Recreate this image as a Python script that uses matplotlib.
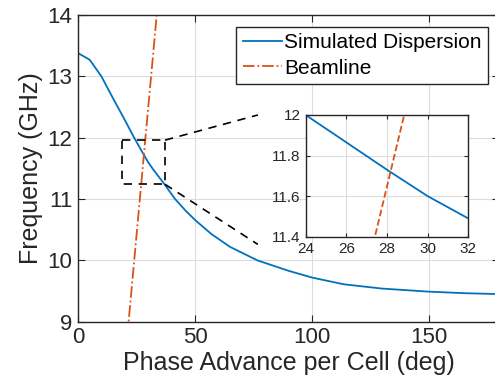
import numpy as np
import matplotlib.pyplot as plt

plt.rcParams['font.family'] = ['Liberation Sans', 'DejaVu Sans']

# Simulated dispersion (phase advance in deg, frequency in GHz)
phase = [0, 5, 10, 15, 20, 24, 28, 30, 32, 36.6, 41.5, 46, 50, 57, 65, 76.7,
         90, 100, 113.6, 130, 150, 165, 180]
freq = [13.38, 13.27, 13.0, 12.64, 12.29, 12.0, 11.73, 11.6, 11.49, 11.26, 11.0,
        10.81, 10.66, 10.43, 10.22, 10.0, 9.83, 9.72, 9.61, 9.54, 9.49, 9.465, 9.45]

# Beamline (straight line)
beam_phase = [0, 40]
beam_freq = [0, 16.64]

blue = '#0072BD'
orange = '#D95319'
spine = '#262626'

fig = plt.figure(figsize=(4.95, 3.92), dpi=100)
W, H = 495, 392
ax = fig.add_axes([78 / W, 1 - 321.7 / H, (499 - 78) / W, (321.7 - 15) / H])

ax.plot(phase, freq, color=blue, lw=1.3, label='Simulated Dispersion')
ax.plot(beam_phase, beam_freq, color=orange, lw=1.3, ls='-.', label='Beamline')
ax.set_xlim(0, 180)
ax.set_ylim(9, 14)
ax.set_xticks([0, 50, 100, 150])
ax.set_yticks([9, 10, 11, 12, 13, 14])
ax.grid(True, color='#dcdcdc', lw=0.8)
ax.tick_params(direction='in', top=True, right=True, labelsize=16, colors=spine,
               length=5, pad=4)
for s in ax.spines.values():
    s.set_color(spine)
    s.set_linewidth(1.0)
ax.set_xlabel('Phase Advance per Cell (deg)', fontsize=18, color=spine, labelpad=2)
ax.set_ylabel('Frequency (GHz)', fontsize=18, color=spine, labelpad=3)
leg = ax.legend(loc='upper right', fontsize=15, fancybox=False, framealpha=1,
                edgecolor=spine, handlelength=1.9, handletextpad=0.1,
                borderpad=0.3, labelspacing=0.3, borderaxespad=0,
                bbox_to_anchor=((488 - 78) / (499 - 78), (321.7 - 27) / (321.7 - 15)))
leg.get_frame().set_linewidth(1.0)

# zoom box and connector lines
rx = [18.6, 37.2, 37.2, 18.6, 18.6]
ry = [11.96, 11.96, 11.24, 11.24, 11.96]
ax.plot(rx, ry, 'k--', lw=1.2, dashes=(5, 4))
ax.plot([37.2, 76.9], [11.96, 12.37], 'k--', lw=1.2, dashes=(5, 4), clip_on=False)
ax.plot([37.2, 76.9], [11.24, 10.26], 'k--', lw=1.2, dashes=(5, 4), clip_on=False)

# inset
ins = fig.add_axes([305.7 / W, 1 - 236.7 / H, (468.3 - 305.7) / W, (236.7 - 115) / H])
ins.plot(phase, freq, color=blue, lw=1.3)
ins.plot(beam_phase, beam_freq, color=orange, lw=1.3, ls='--')
ins.set_xlim(24, 32)
ins.set_ylim(11.4, 12)
ins.set_xticks([24, 26, 28, 30, 32])
ins.set_yticks([11.4, 11.6, 11.8, 12])
ins.set_yticklabels(['11.4', '11.6', '11.8', '12'])
ins.grid(True, color='#dcdcdc', lw=0.8)
ins.tick_params(direction='in', top=True, right=True, labelsize=11, colors=spine, length=3)
for s in ins.spines.values():
    s.set_color(spine)
    s.set_linewidth(1.0)

fig.savefig('out.png', dpi=100)
